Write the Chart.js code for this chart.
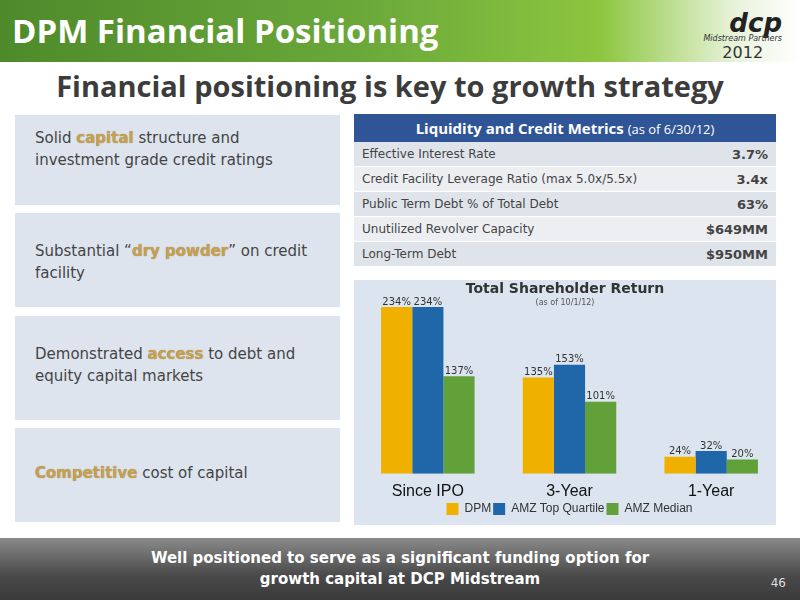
<!DOCTYPE html>
<html>
<head>
<meta charset="utf-8">
<script src="https://cdn.jsdelivr.net/npm/chart.js@4"></script>
<style>
  body { margin: 0; width: 800px; height: 600px; position: relative; overflow: hidden; background: #fff; font-family: "DejaVu Sans", sans-serif; }
  .banner { position: absolute; left: 0; top: 0; width: 800px; height: 62px; background: linear-gradient(90deg, #4e8a2a 0%, #6aa83a 45%, #8cc63f 75%, #e9f3dc 92%, #fff 100%); }
  .banner h1 { position: absolute; left: 12px; top: 8px; margin: 0; color: #fff; font: bold 33px "Open Sans", sans-serif; }
  .logo { position: absolute; right: 18px; top: 12px; text-align: right; color: #333; }
  .logo .d { font: italic bold 26px "DejaVu Sans", sans-serif; color: #222; line-height: 22px; }
  .logo .m { font: italic 8px "DejaVu Sans"; }
  .logo .y { font: 16px "DejaVu Sans"; text-align: center; }
  .sub { position: absolute; left: 0; width: 780px; top: 66px; text-align: center; font: bold 29px "Open Sans", sans-serif; color: #3c3c3c; }
  .box { position: absolute; left: 15px; width: 325px; background: #dde4ee; color: #444; font-size: 15px; line-height: 22px; }
  .box div { padding: 12px 40px 0 20px; }
  .hl { color: #c9a04a; font-weight: bold; text-shadow: 0 0 1px #888; }
  table { position: absolute; left: 354px; top: 114px; width: 422px; border-collapse: collapse; font-size: 12px; color: #444; }
  th { background: #2f5597; color: #fff; height: 26px; font: bold 15px "Open Sans", sans-serif; }
  th span { font-size: 13px; font-weight: normal; }
  td { height: 24px; padding: 0 8px; border-bottom: 1px solid #fff; }
  td.v { text-align: right; font-weight: bold; font-size: 13px; }
  tr.a td { background: #dfe3ea; } tr.b td { background: #eceef2; }
  .panel { position: absolute; left: 354px; top: 280px; width: 422px; height: 245px; background: #dbe4ef; }
  .ct { position: absolute; left: 354px; width: 422px; top: 280px; text-align: center; font: bold 14px "DejaVu Sans"; color: #333; }
  .ct2 { position: absolute; left: 354px; width: 422px; top: 298px; text-align: center; font-size: 8px; color: #555; }
  #wrap { position: absolute; left: 357px; top: 280px; width: 425px; height: 245px; }
  .foot { position: absolute; left: 0; top: 538px; width: 800px; height: 62px; background: linear-gradient(180deg, #8a8a8a, #4a4a4a 60%, #3a3a3a); color: #fff; text-align: center; font: bold 15px "DejaVu Sans"; }
  .foot div { padding-top: 10px; line-height: 21px; }
  .pg { position: absolute; right: 14px; top: 576px; color: #ddd; font-size: 12px; }
</style>
</head>
<body>
<div class="banner"><h1>DPM Financial Positioning</h1>
  <div class="logo"><div class="d">dcp</div><div class="m">Midstream Partners</div><div class="y">2012</div></div>
</div>
<div class="sub">Financial positioning is key to growth strategy</div>

<div class="box" style="top:115px;height:90px"><div>Solid <span class="hl">capital</span> structure and investment grade credit ratings</div></div>
<div class="box" style="top:213px;height:94px"><div style="padding-top:27px;padding-right:10px">Substantial “<span class="hl">dry powder</span>” on credit facility</div></div>
<div class="box" style="top:316px;height:104px"><div style="padding-top:27px">Demonstrated <span class="hl">access</span> to debt and equity capital markets</div></div>
<div class="box" style="top:428px;height:94px"><div style="padding-top:34px"><span class="hl">Competitive</span> cost of capital</div></div>

<table>
  <tr><th colspan="2">Liquidity and Credit Metrics <span>(as of 6/30/12)</span></th></tr>
  <tr class="a"><td>Effective Interest Rate</td><td class="v">3.7%</td></tr>
  <tr class="b"><td>Credit Facility Leverage Ratio (max 5.0x/5.5x)</td><td class="v">3.4x</td></tr>
  <tr class="a"><td>Public Term Debt % of Total Debt</td><td class="v">63%</td></tr>
  <tr class="b"><td>Unutilized Revolver Capacity</td><td class="v">$649MM</td></tr>
  <tr class="a"><td>Long-Term Debt</td><td class="v">$950MM</td></tr>
</table>

<div class="panel"></div>
<div id="wrap"><canvas id="tsr"></canvas></div>
<div class="ct">Total Shareholder Return</div>
<div class="ct2">(as of 10/1/12)</div>

<div class="foot"><div>Well positioned to serve as a significant funding option for<br>growth capital at DCP Midstream</div></div>
<div class="pg">46</div>

<script>
const categories = ["Since IPO", "3-Year", "1-Year"];
const dpm = [234, 135, 24];
const topQuartile = [234, 153, 32];
const median = [137, 101, 20];

const valueLabels = {
  id: "valueLabels",
  afterDatasetsDraw(chart) {
    const c = chart.ctx;
    c.save();
    c.font = "10px 'DejaVu Sans'";
    c.fillStyle = "#333";
    c.textAlign = "center";
    chart.data.datasets.forEach((ds, i) => {
      chart.getDatasetMeta(i).data.forEach((bar, j) => {
        c.fillText(ds.data[j] + "%", bar.x, bar.y - 5);
      });
    });
    c.restore();
  }
};

new Chart(document.getElementById("tsr"), {
  type: "bar",
  data: {
    labels: categories,
    datasets: [
      { label: "DPM", data: dpm, backgroundColor: "#f0b000" },
      { label: "AMZ Top Quartile", data: topQuartile, backgroundColor: "#1f67a8" },
      { label: "AMZ Median", data: median, backgroundColor: "#62a03a" }
    ]
  },
  options: {
    responsive: true,
    maintainAspectRatio: false,
    animation: false,
    layout: { padding: { top: 12, bottom: 0 } },
    datasets: { bar: { categoryPercentage: 0.66, barPercentage: 1 } },
    scales: {
      x: { grid: { display: false }, border: { display: false },
           ticks: { color: "#111", font: { size: 16, family: "'Liberation Sans'" }, padding: 0 } },
      y: { display: false, min: 0, max: 255 }
    },
    plugins: {
      legend: { position: "bottom",
                labels: { boxWidth: 12, boxHeight: 12, color: "#333", font: { size: 12, family: "'Liberation Sans'" }, padding: 2 } },
      tooltip: { enabled: false }
    }
  },
  plugins: [valueLabels]
});
</script>
</body>
</html>
